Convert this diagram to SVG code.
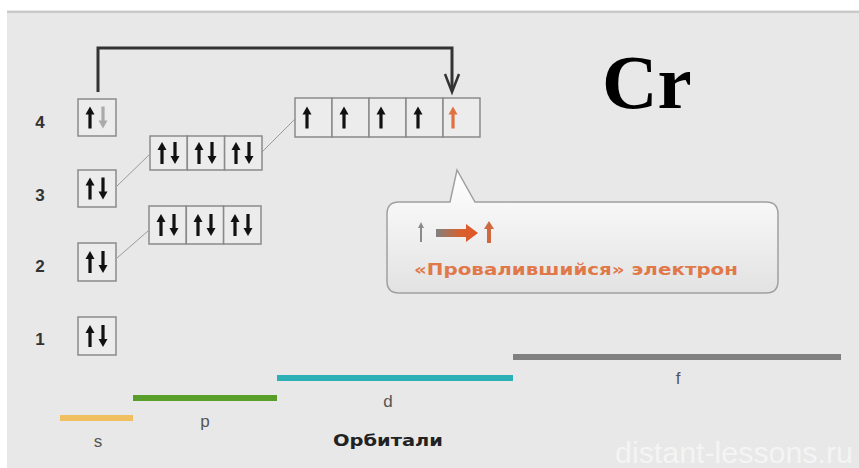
<svg xmlns="http://www.w3.org/2000/svg" xmlns:xlink="http://www.w3.org/1999/xlink" width="859" height="468" viewBox="0 0 859 468">
<style>
.cell{fill:#ececec;stroke:#8a8a8a;stroke-width:1.5}
.lvl{font-family:"Liberation Sans",Arial,sans-serif;font-weight:bold;font-size:17px;fill:#333;text-anchor:middle}
.orb{font-family:"Liberation Sans",Arial,sans-serif;font-size:17px;fill:#555;text-anchor:middle}
.thin{stroke:#9a9a9a;stroke-width:1;fill:none}
.eline{stroke-width:6;fill:none}
</style>
<defs>
<path id="up" d="M0,-11 L4.5,-3 L1.6,-3 L1.6,11 L-1.6,11 L-1.6,-3 L-4.5,-3 Z"/>
<path id="dn" d="M0,11 L4.5,3 L1.6,3 L1.6,-11 L-1.6,-11 L-1.6,3 L-4.5,3 Z"/>
<linearGradient id="cg" x1="0" y1="0" x2="0" y2="1">
<stop offset="0" stop-color="#ffffff"/>
<stop offset="1" stop-color="#e2e2e2"/>
</linearGradient>
<linearGradient id="ag" x1="0" y1="0" x2="1" y2="0">
<stop offset="0" stop-color="#808080"/>
<stop offset="0.6" stop-color="#d9602c"/>
<stop offset="1" stop-color="#e0542a"/>
</linearGradient>
</defs>
<rect x="0" y="0" width="859" height="468" fill="#ffffff"/>
<rect x="7" y="10" width="852" height="458" fill="#e8e8e8"/>
<line x1="7" y1="12" x2="859" y2="12" stroke="#c9c9c9" stroke-width="2"/>

<g id="connectors">
<polyline points="98,92 98,48 452,48 452,90" fill="none" stroke="#333" stroke-width="3"/>
<polyline points="445,74 452,92 459,74" fill="none" stroke="#333" stroke-width="2.5"/>
<line class="thin" x1="117" y1="186" x2="149" y2="155"/>
<line class="thin" x1="117" y1="258" x2="148" y2="231"/>
<line class="thin" x1="262" y1="152" x2="295" y2="119"/>
</g>

<g id="levels">
<text class="lvl" x="40" y="128">4</text>
<text class="lvl" x="40" y="201">3</text>
<text class="lvl" x="40" y="272">2</text>
<text class="lvl" x="40" y="345">1</text>
</g>

<g id="s4">
<rect class="cell" x="78" y="99" width="38" height="37"/>
<use href="#up" x="90" y="117.5" fill="#111"/>
<use href="#dn" x="103" y="117.5" fill="#aaaaaa"/>
</g>
<g id="s3">
<rect class="cell" x="78" y="170" width="38" height="37"/>
<use href="#up" x="90" y="188.5" fill="#111"/>
<use href="#dn" x="103" y="188.5" fill="#111"/>
</g>
<g id="s2">
<rect class="cell" x="78" y="243" width="38" height="38"/>
<use href="#up" x="90" y="262" fill="#111"/>
<use href="#dn" x="103" y="262" fill="#111"/>
</g>
<g id="s1">
<rect class="cell" x="78" y="317" width="38" height="38"/>
<use href="#up" x="90" y="336" fill="#111"/>
<use href="#dn" x="103" y="336" fill="#111"/>
</g>

<g id="p3">
<rect class="cell" x="150" y="136" width="37.3" height="34"/>
<rect class="cell" x="187.3" y="136" width="37.3" height="34"/>
<rect class="cell" x="224.6" y="136" width="37.4" height="34"/>
<use href="#up" x="162" y="153" fill="#111"/>
<use href="#dn" x="175" y="153" fill="#111"/>
<use href="#up" x="199" y="153" fill="#111"/>
<use href="#dn" x="212" y="153" fill="#111"/>
<use href="#up" x="236" y="153" fill="#111"/>
<use href="#dn" x="249" y="153" fill="#111"/>
</g>
<g id="p2">
<rect class="cell" x="149" y="206" width="37.3" height="38"/>
<rect class="cell" x="186.3" y="206" width="37.3" height="38"/>
<rect class="cell" x="223.6" y="206" width="37.4" height="38"/>
<use href="#up" x="161" y="225" fill="#111"/>
<use href="#dn" x="174" y="225" fill="#111"/>
<use href="#up" x="198" y="225" fill="#111"/>
<use href="#dn" x="211" y="225" fill="#111"/>
<use href="#up" x="235" y="225" fill="#111"/>
<use href="#dn" x="248" y="225" fill="#111"/>
</g>
<g id="d3">
<rect class="cell" x="295" y="98" width="37" height="39"/>
<rect class="cell" x="332" y="98" width="37" height="39"/>
<rect class="cell" x="369" y="98" width="37" height="39"/>
<rect class="cell" x="406" y="98" width="37" height="39"/>
<rect class="cell" x="443" y="98" width="37" height="39"/>
<use href="#up" x="307" y="117.5" fill="#111"/>
<use href="#up" x="344" y="117.5" fill="#111"/>
<use href="#up" x="381" y="117.5" fill="#111"/>
<use href="#up" x="418" y="117.5" fill="#111"/>
<use href="#up" x="453" y="117.5" fill="#e07040"/>
</g>

<g id="element">
<text x="602" y="108" font-family="'Liberation Serif','Times New Roman',serif" font-weight="bold" font-size="77" fill="#000">Cr</text>
</g>

<g id="callout">
<path d="M399,202 L450,202 L457,170 L475,202 L766,202 Q778,202 778,214 L778,281 Q778,293 766,293 L399,293 Q387,293 387,281 L387,214 Q387,202 399,202 Z" fill="url(#cg)" stroke="#a0a0a0" stroke-width="1.5"/>
<path d="M421,222 L424,228 L422,228 L422,242 L420,242 L420,228 L418,228 Z" fill="#8a8a8a"/>
<path d="M436,229 L466,229 L466,224 L478,233 L466,242 L466,237 L436,237 Z" fill="url(#ag)"/>
<path d="M489,221 L494,229 L491,229 L491,243 L487,243 L487,229 L484,229 Z" fill="#cf6a40"/>
<text x="414" y="275" font-family="'DejaVu Sans','Liberation Sans',sans-serif" font-weight="bold" font-size="15" fill="#e0784a" textLength="324" lengthAdjust="spacingAndGlyphs">«Провалившийся» электрон</text>
</g>

<g id="orbitals">
<line class="eline" x1="60" y1="418" x2="133" y2="418" stroke="#f0c060"/>
<line class="eline" x1="133" y1="398" x2="277" y2="398" stroke="#5a9e2a"/>
<line class="eline" x1="277" y1="378" x2="513" y2="378" stroke="#2cb0b6"/>
<line class="eline" x1="513" y1="357" x2="841" y2="357" stroke="#808080"/>
<text class="orb" x="98" y="447">s</text>
<text class="orb" x="205" y="427">p</text>
<text class="orb" x="388" y="407">d</text>
<text class="orb" x="678" y="384">f</text>
<text x="333" y="446" font-family="'DejaVu Sans','Liberation Sans',sans-serif" font-weight="bold" font-size="15" fill="#222" textLength="110" lengthAdjust="spacingAndGlyphs">Орбитали</text>
</g>

<text x="615" y="463" font-family="'Liberation Sans',Arial,sans-serif" font-size="29" fill="#f4f4f4" textLength="238" lengthAdjust="spacingAndGlyphs">distant-lessons.ru</text>
</svg>
